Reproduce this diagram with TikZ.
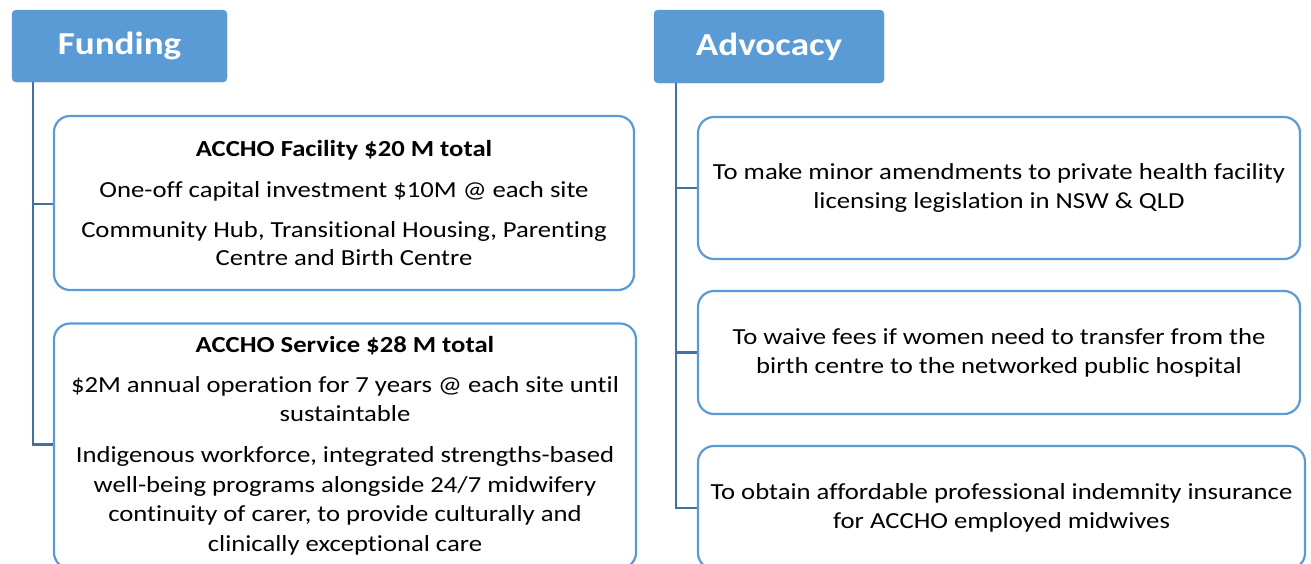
\documentclass[tikz,border=0pt]{standalone}
\usepackage{fontspec}
\setmainfont{Carlito}[FakeStretch=1.16, Ligatures=NoCommon]
\definecolor{hdr}{RGB}{91,155,213}
\definecolor{boxline}{RGB}{91,155,213}
\definecolor{conncol}{RGB}{65,113,156}
\tikzset{
  header/.style={fill=hdr, draw=hdr, rounded corners=4pt, text=white, font=\fontsize{32}{40}\selectfont\bfseries, inner sep=0pt},
  itembox/.style={draw=boxline, line width=2.2pt, fill=white, rounded corners=16pt, align=center, inner sep=0pt, font=\fontsize{23}{29}\selectfont},
  conn/.style={draw=conncol, line width=2.6pt}
}
\begin{document}
\begin{tikzpicture}[x=1pt,y=-1pt]
\useasboundingbox (0,0) rectangle (1311,563);
\clip (0,0) rectangle (1311,563);
\node[header, minimum width=215pt, minimum height=72pt] (fund) at (119.5,46) {Funding};
\node[header, minimum width=230pt, minimum height=73pt] (adv) at (769,46.5) {Advocacy};

\draw[conn] ([xshift=21pt]fund.south west) |- (54,204) coordinate (f1c);
\draw[conn] ([xshift=21pt]fund.south west) |- (54,444.5) coordinate (f2c);
\draw[conn] ([xshift=22pt]adv.south west) |- (698,188);
\draw[conn] ([xshift=22pt]adv.south west) |- (698,352.5);
\draw[conn] ([xshift=22pt]adv.south west) |- (698,508);

\node[itembox, minimum width=580pt, minimum height=174pt] (f1) at (344,203)
 {\textbf{ACCHO Facility \$20 M total}\\[12pt]
  One-off capital investment \$10M @ each site\\[11pt]
  Community Hub, Transitional Housing, Parenting\\[-1pt]
  Centre and Birth Centre};
\node[itembox, minimum width=582pt, minimum height=245pt] (f2) at (345,446)
 {\textbf{ACCHO Service \$28 M total}\\[11pt]
  \$2M annual operation for 7 years @ each site until\\
  sustaintable\\[12pt]
  Indigenous workforce, integrated strengths-based\\[0.5pt]
  well-being programs alongside 24/7 midwifery\\[0.5pt]
  continuity of carer, to provide culturally and\\[0.5pt]
  clinically exceptional care};
\node[itembox, minimum width=602pt, minimum height=142pt] (a1) at (999,188)
 {To make minor amendments to private health facility\\
  licensing legislation in NSW \& QLD};
\node[itembox, minimum width=602pt, minimum height=123pt] (a2) at (999,352.5)
 {\raisebox{-2pt}{To waive fees if women need to transfer from the}\\
  \raisebox{-2pt}{birth centre to the networked public hospital}};
\node[itembox, minimum width=607pt, minimum height=123pt] (a3) at (1001.5,507.5)
 {\raisebox{-2pt}{To obtain affordable professional indemnity insurance}\\
  \raisebox{-2pt}{for ACCHO employed midwives}};
\end{tikzpicture}
\end{document}
